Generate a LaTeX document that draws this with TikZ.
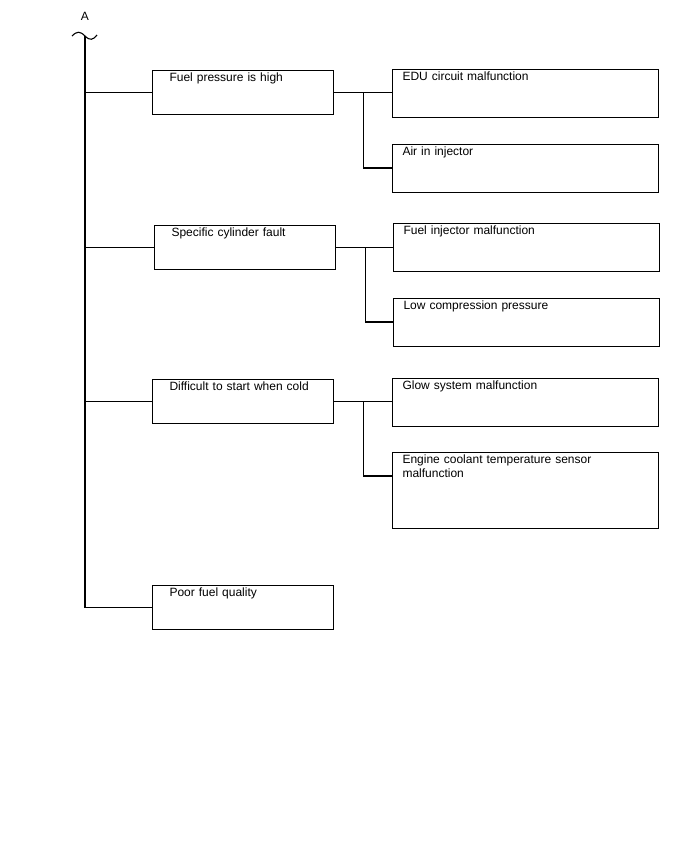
\documentclass[tikz,border=0pt]{standalone}
\usepackage{fontspec}
\setmainfont{Liberation Sans}
\usepackage{tikz}
\usetikzlibrary{positioning,calc}
\tikzset{
  cause/.style ={draw, anchor=north west, align=left, line width=1.1pt,
                 inner xsep=17pt, inner ysep=2pt, text width=147pt,
                 text height=9pt, text depth=31pt},
  detail/.style={draw, anchor=north west, align=left, line width=1.1pt,
                 inner xsep=10pt, inner ysep=2pt, text width=246pt,
                 text height=9pt, text depth=35pt},
  link/.style  ={line width=1.1pt},
}

\begin{document}
\begin{tikzpicture}[x=1pt, y=-1pt, every node/.style={font=\fontsize{12}{14}\selectfont}]
        \useasboundingbox (0,0) rectangle (688,852);
        \node (A) at (85,16) {A};
        \coordinate (top) at (85,36);
        \draw[link] (72,36) .. controls (77,31) and (80,31) .. (top)
                    .. controls (90,41) and (93,40) .. (97,35);
        % causes
        \node[cause] (p1) at (152,70)  {Fuel pressure is high};
        \node[cause] (p2) at (154,225) {Specific cylinder fault};
        \node[cause] (p3) at (152,379) {Difficult to start when cold};
        \node[cause] (p4) at (152,585) {Poor fuel quality};
        % details
        \node[detail] (e1) at (392,69)  {EDU circuit malfunction};
        \node[detail] (e2) at (392,144) {Air in injector};
        \node[detail] (e3) at (393,223) {Fuel injector malfunction};
        \node[detail] (e4) at (393,298) {Low compression pressure};
        \node[detail] (e5) at (392,378) {Glow system malfunction};
        \node[detail, text depth=63pt] (e6) at (392,452)
             {Engine coolant temperature sensor\\malfunction};
        % trunk
        \draw[link] (top) -- (top |- p4.west) -- (p4.west);
        \foreach \n in {p1,p2,p3}
          \draw[link] (top |- \n.west) -- (\n.west);
        % branches
        \foreach \p/\a/\b in {p1/e1/e2, p2/e3/e4, p3/e5/e6}{
          \coordinate (j\p) at ($(\p.east)+(29,0)$);
          \draw[link] (\p.east) -- (\p.east -| \a.west);
          \draw[link] (j\p) |- ($(\b.north west)+(0,24)$);
        }
      \end{tikzpicture}
\end{document}
